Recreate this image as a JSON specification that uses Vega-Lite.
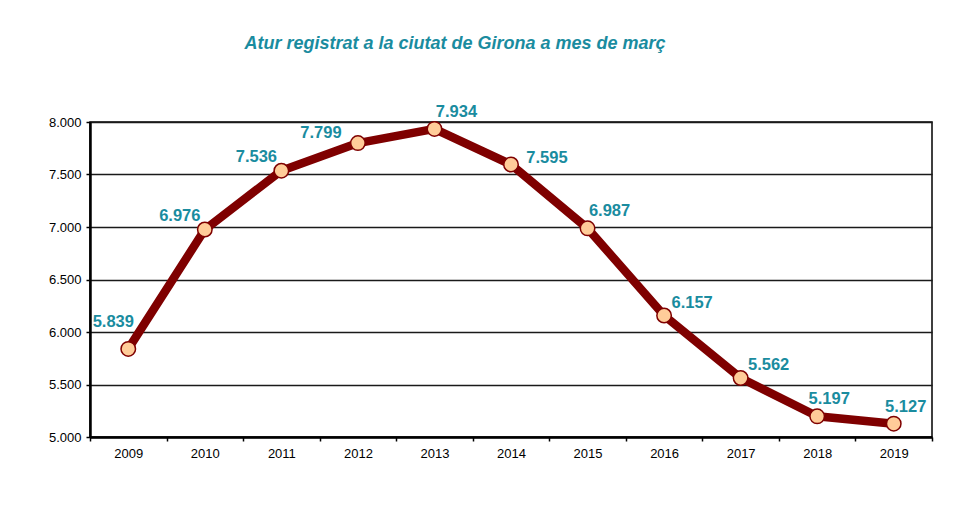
{
  "$schema": "https://vega.github.io/schema/vega-lite/v6.json",
  "autosize": {"type": "none"},
  "width": 842,
  "height": 315,
  "padding": {"left": 90, "top": 122, "right": 36, "bottom": 76},
  "background": "#ffffff",
  "title": {
    "text": "Atur registrat a la ciutat de Girona a mes de març",
    "font": "Liberation Sans",
    "fontSize": 18,
    "fontStyle": "italic",
    "fontWeight": "bold",
    "color": "#1a8c9f",
    "anchor": "middle",
    "frame": "group",
    "baseline": "alphabetic",
    "dx": -56,
    "offset": 37
  },
  "config": {
    "locale": {"number": {"decimal": ",", "thousands": ".", "grouping": [3], "currency": ["", " €"]}},
    "view": {"stroke": "#000000", "strokeWidth": 1.5},
    "font": "Liberation Sans"
  },
  "data": {
    "values": [
      {"year": "2009", "value": 5839},
      {"year": "2010", "value": 6976},
      {"year": "2011", "value": 7536},
      {"year": "2012", "value": 7799},
      {"year": "2013", "value": 7934},
      {"year": "2014", "value": 7595},
      {"year": "2015", "value": 6987},
      {"year": "2016", "value": 6157},
      {"year": "2017", "value": 5562},
      {"year": "2018", "value": 5197},
      {"year": "2019", "value": 5127}
    ]
  },
  "encoding": {
    "x": {
      "field": "year",
      "type": "ordinal",
      "scale": {"type": "band", "paddingInner": 0, "paddingOuter": 0},
      "axis": {
        "title": null,
        "labelAngle": 0,
        "tickBand": "extent",
        "domainColor": "#000000",
        "domainWidth": 2.5,
        "tickColor": "#000000",
        "tickWidth": 1.5,
        "tickSize": 4,
        "labelFont": "Liberation Sans",
        "labelFontSize": 13,
        "labelColor": "#000000",
        "labelPadding": 6,
        "grid": false
      }
    },
    "y": {
      "field": "value",
      "type": "quantitative",
      "scale": {"domain": [5000, 8000], "nice": false, "zero": false},
      "axis": {
        "title": null,
        "values": [5000, 5500, 6000, 6500, 7000, 7500, 8000],
        "format": ",.0f",
        "grid": true,
        "gridColor": "#1a1a1a",
        "gridWidth": 1.5,
        "domainColor": "#000000",
        "domainWidth": 2.5,
        "tickColor": "#000000",
        "tickWidth": 1.5,
        "tickSize": 4,
        "labelFont": "Liberation Sans",
        "labelFontSize": 13,
        "labelColor": "#000000",
        "labelPadding": 5
      }
    }
  },
  "layer": [
    {"mark": {"type": "line", "color": "#7f0000", "strokeWidth": 8.5, "strokeJoin": "round", "strokeCap": "round"}},
    {"mark": {"type": "point", "shape": "circle", "filled": true, "fill": "#ffcc99", "stroke": "#7f0000", "strokeWidth": 1.5, "size": 210, "opacity": 1}},
    {
      "transform": [{"filter": {"field": "year", "oneOf": ["2009"]}}],
      "mark": {"type": "text", "font": "Liberation Sans", "fontSize": 16.5, "fontWeight": "bold", "color": "#1a8c9f", "align": "center", "baseline": "middle", "dx": -15, "dy": -27},
      "encoding": {"text": {"field": "value", "type": "quantitative", "format": ",.0f"}}
    },
    {
      "transform": [{"filter": {"field": "year", "oneOf": ["2010", "2011"]}}],
      "mark": {"type": "text", "font": "Liberation Sans", "fontSize": 16.5, "fontWeight": "bold", "color": "#1a8c9f", "align": "center", "baseline": "middle", "dx": -25, "dy": -14},
      "encoding": {"text": {"field": "value", "type": "quantitative", "format": ",.0f"}}
    },
    {
      "transform": [{"filter": {"field": "year", "oneOf": ["2012"]}}],
      "mark": {"type": "text", "font": "Liberation Sans", "fontSize": 16.5, "fontWeight": "bold", "color": "#1a8c9f", "align": "center", "baseline": "middle", "dx": -37, "dy": -10},
      "encoding": {"text": {"field": "value", "type": "quantitative", "format": ",.0f"}}
    },
    {
      "transform": [{"filter": {"field": "year", "oneOf": ["2013", "2015"]}}],
      "mark": {"type": "text", "font": "Liberation Sans", "fontSize": 16.5, "fontWeight": "bold", "color": "#1a8c9f", "align": "center", "baseline": "middle", "dx": 22, "dy": -17},
      "encoding": {"text": {"field": "value", "type": "quantitative", "format": ",.0f"}}
    },
    {
      "transform": [{"filter": {"field": "year", "oneOf": ["2014"]}}],
      "mark": {"type": "text", "font": "Liberation Sans", "fontSize": 16.5, "fontWeight": "bold", "color": "#1a8c9f", "align": "center", "baseline": "middle", "dx": 36, "dy": -7},
      "encoding": {"text": {"field": "value", "type": "quantitative", "format": ",.0f"}}
    },
    {
      "transform": [{"filter": {"field": "year", "oneOf": ["2016", "2017"]}}],
      "mark": {"type": "text", "font": "Liberation Sans", "fontSize": 16.5, "fontWeight": "bold", "color": "#1a8c9f", "align": "center", "baseline": "middle", "dx": 28, "dy": -13},
      "encoding": {"text": {"field": "value", "type": "quantitative", "format": ",.0f"}}
    },
    {
      "transform": [{"filter": {"field": "year", "oneOf": ["2018", "2019"]}}],
      "mark": {"type": "text", "font": "Liberation Sans", "fontSize": 16.5, "fontWeight": "bold", "color": "#1a8c9f", "align": "center", "baseline": "middle", "dx": 12, "dy": -17},
      "encoding": {"text": {"field": "value", "type": "quantitative", "format": ",.0f"}}
    }
  ]
}
